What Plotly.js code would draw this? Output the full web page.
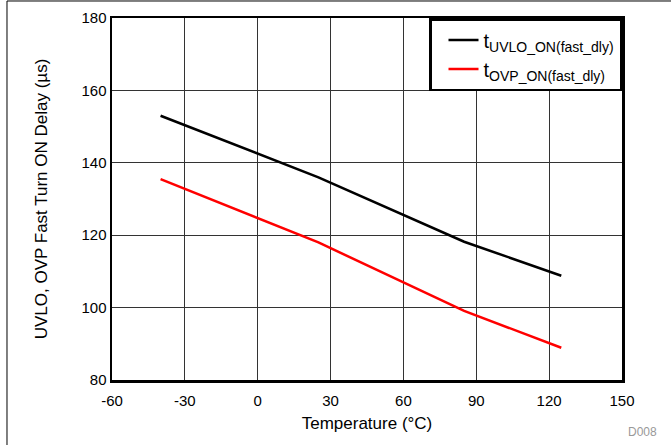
<!DOCTYPE html>
<html>
<head>
<meta charset="utf-8">
<script src="https://cdn.plot.ly/plotly-3.0.1.min.js"></script>
<style>html,body{margin:0;padding:0;background:#fff;}#chart{width:671px;height:445px;}</style>
</head>
<body>
<div id="chart"></div>
<script>
var temperature = [-40, 25, 85, 125];
var uvloDelay = [153, 136, 118.2, 108.8];
var ovpDelay = [135.5, 118, 99.1, 88.9];
var xTicks = [-60, -30, 0, 30, 60, 90, 120, 150];
var yTicks = [80, 100, 120, 140, 160, 180];

var font = 'Liberation Sans, Arial, sans-serif';
var traces = [
  {x: temperature, y: uvloDelay, mode: 'lines', name: 't<sub>UVLO_ON(fast_dly)</sub>',
   line: {color: '#000000', width: 2.5}},
  {x: temperature, y: ovpDelay, mode: 'lines', name: 't<sub>OVP_ON(fast_dly)</sub>',
   line: {color: '#ff0000', width: 2.5}}
];
var layout = {
  width: 671, height: 445,
  margin: {l: 112, r: 49, t: 18, b: 65},
  paper_bgcolor: '#ffffff', plot_bgcolor: '#ffffff',
  font: {family: font, color: '#000', size: 15},
  showlegend: true,
  legend: {x: 1, y: 1, xanchor: 'right', yanchor: 'top', bgcolor: '#fff',
    bordercolor: '#000', borderwidth: 2.5, font: {size: 20, family: font},
    tracegroupgap: 0, indentation: 12},
  xaxis: {range: [-60, 150], tickvals: xTicks, ticktext: xTicks.map(String),
    showgrid: true, gridcolor: '#333', gridwidth: 1, zeroline: false,
    showline: true, linecolor: '#000', linewidth: 2.5, mirror: true, ticks: '',
    tickfont: {size: 15}, ticklabelstandoff: 5,
    title: {text: 'Temperature (°C)', font: {size: 17}, standoff: 10}},
  yaxis: {range: [80, 180], tickvals: yTicks, ticktext: yTicks.map(String),
    showgrid: true, gridcolor: '#333', gridwidth: 1, zeroline: false,
    showline: true, linecolor: '#000', linewidth: 2.5, mirror: true, ticks: '',
    tickfont: {size: 15},
    title: {text: 'UVLO, OVP Fast Turn ON Delay (µs)', font: {size: 17}, standoff: 30}},
  annotations: [{xref: 'paper', yref: 'paper', x: 1.041, y: -0.1436, xanchor: 'center', yanchor: 'middle',
    text: 'D008', showarrow: false, font: {size: 12, color: '#999'}}],
  shapes: [
    {type: 'line', xref: 'paper', yref: 'paper', x0: -0.2059, x1: -0.2059, y0: 1.047, y1: -0.3,
     line: {color: '#000', width: 1}},
    {type: 'line', xref: 'paper', yref: 'paper', x0: -0.2059, x1: 1.2, y0: 1.047, y1: 1.047,
     line: {color: '#000', width: 1}}
  ]
};
Plotly.newPlot('chart', traces, layout, {displayModeBar: false, staticPlot: true});
</script>
</body>
</html>
